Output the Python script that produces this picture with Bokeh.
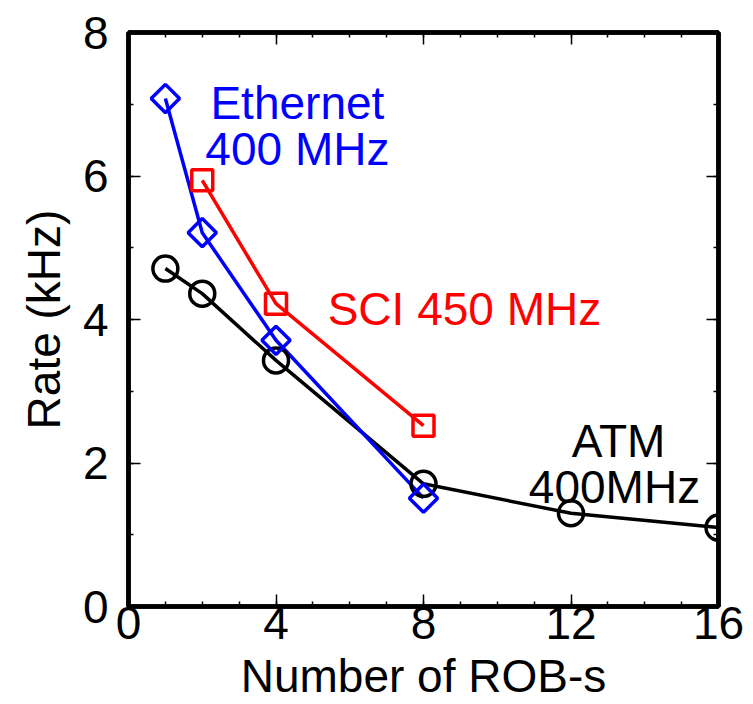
import math
from bokeh.plotting import figure
from bokeh.models import Range1d, SingleIntervalTicker, LinearAxis, Label, CustomLabelingPolicy
from bokeh.embed import file_html
from bokeh.resources import INLINE

# Data
eth_x = [1, 2, 4, 8]
eth_y = [7.08, 5.21, 3.71, 1.51]
sci_x = [2, 4, 8]
sci_y = [5.94, 4.22, 2.52]
atm_x = [1, 2, 4, 8, 12, 16]
atm_y = [4.71, 4.36, 3.43, 1.71, 1.30, 1.10]

x_label = "Number of ROB-s"
y_label = "Rate (kHz)"

FONT = "Liberation Sans"
FS = "46px"

p = figure(width=753, height=704, output_backend="svg", toolbar_location=None,
           x_range=Range1d(0, 16), y_range=Range1d(0, 8),
           min_border_left=128, min_border_right=35, min_border_top=32, min_border_bottom=98,
           x_axis_label=x_label, y_axis_label=y_label)
p.background_fill_color = "white"
p.border_fill_color = "white"
p.xgrid.visible = False
p.ygrid.visible = False
p.outline_line_color = "black"
p.outline_line_width = 4.5

def style_axis(ax, fs=FS):
    ax.axis_line_width = 4.5
    ax.axis_line_color = "black"
    ax.major_tick_in = 12
    ax.major_tick_out = 0
    ax.minor_tick_in = 5
    ax.minor_tick_out = 0
    ax.major_tick_line_width = 1.5
    ax.minor_tick_line_width = 1.5
    ax.major_label_text_font = FONT
    ax.major_label_text_font_size = fs
    ax.major_label_text_color = "black"
    ax.axis_label_text_font = FONT
    ax.axis_label_text_font_size = FS
    ax.axis_label_text_font_style = "normal"
    ax.axis_label_text_color = "black"

p.xaxis.ticker = SingleIntervalTicker(interval=4, num_minor_ticks=4)
p.yaxis.ticker = SingleIntervalTicker(interval=2, num_minor_ticks=2)
for ax in p.xaxis:
    style_axis(ax)
    ax.major_label_standoff = 0
    ax.axis_label_standoff = 8
for ax in p.yaxis:
    style_axis(ax)
    ax.major_label_standoff = 20
    ax.axis_label_standoff = 10

no_labels = CustomLabelingPolicy(code="""
const out = [];
for (const i of indices) { out.push(i); }
for (const i of out) { indices.unset(i); }
return indices;
""")
top = LinearAxis(ticker=SingleIntervalTicker(interval=4, num_minor_ticks=4))
right = LinearAxis(ticker=SingleIntervalTicker(interval=2, num_minor_ticks=2))
for ax in (top, right):
    style_axis(ax, fs="0px")
    ax.major_label_policy = no_labels
    ax.major_label_standoff = 0
p.add_layout(top, "above")
p.add_layout(right, "right")

LW = 3.5
# Lines
p.line(atm_x, atm_y, line_color="black", line_width=LW)
p.line(eth_x, eth_y, line_color="#0000ff", line_width=LW)
p.line(sci_x, sci_y, line_color="#ff0000", line_width=LW)
# Markers
p.scatter(atm_x, atm_y, marker="circle", size=25, fill_color=None,
          line_color="black", line_width=LW)
p.scatter(eth_x, eth_y, marker="square", size=20, angle=math.pi / 4, fill_color=None,
          line_color="#0000ff", line_width=LW)
p.scatter(sci_x, sci_y, marker="square", size=21, fill_color=None,
          line_color="#ff0000", line_width=LW)

def lab(x, y, t, c):
    p.add_layout(Label(x=x, y=y, text=t, text_color=c, text_font=FONT,
                       text_font_size=FS, text_align="center",
                       text_baseline="alphabetic"))

lab(4.58, 7.02, "Ethernet", "#0000ff")
lab(4.58, 6.38, "400 MHz", "#0000ff")
lab(9.11, 4.15, "SCI 450 MHz", "#ff0000")
lab(13.29, 2.31, "ATM", "black")
lab(13.18, 1.66, "400MHz", "black")

open("out.html", "w").write(file_html(p, INLINE))
